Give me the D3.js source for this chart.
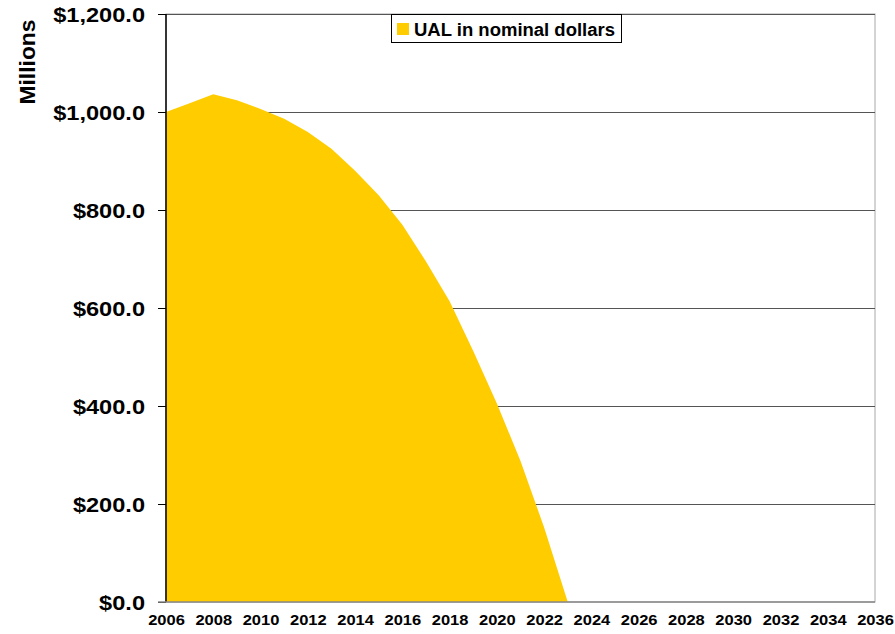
<!DOCTYPE html>
<html><head><meta charset="utf-8">
<script src="https://cdn.jsdelivr.net/npm/d3@7"></script>
<style>body{margin:0;background:#fff}svg{display:block}text{font-family:"Liberation Sans",Arial,sans-serif;font-weight:bold}</style>
</head><body>
<svg id="c" width="895" height="634"></svg>
<script>
const years = d3.range(2006, 2037);
const ualValues = [1000,1018,1036,1024,1006,986,959,925,880,830,770,695,614,512,405,288,152,0,0,0,0,0,0,0,0,0,0,0,0,0,0];
const yTicks = [0,200,400,600,800,1000,1200];
const xTicks = d3.range(2006, 2037, 2);
const seriesName = "UAL in nominal dollars";

const svg = d3.select("#c");
const L=166, R=875, T=14, B=602;
const x = d3.scaleLinear().domain([2006,2036]).range([L,R]);
const y = d3.scaleLinear().domain([0,1200]).range([B,T]);
const data = years.map((yr,i)=>({yr, v: ualValues[i]}));

// border
svg.append("rect").attr("x",L).attr("y",T).attr("width",R-L).attr("height",B-T)
  .attr("fill","none").attr("stroke","#a8a8a8").attr("stroke-width",1);

// gridlines
svg.append("g").selectAll("line").data(yTicks.filter(d=>d>0)).join("line")
  .attr("x1",L).attr("x2",R).attr("y1",d=>y(d)+0.5).attr("y2",d=>y(d)+0.5)
  .attr("stroke","#555").attr("stroke-width",1);

// area
svg.append("path").datum(data)
  .attr("d", d3.area().x(d=>x(d.yr)).y0(y(0)).y1(d=>y(d.v)))
  .attr("fill","#FFCC00");

// y axis
const ySx = 1.18;
const ya = svg.append("g").attr("transform",`translate(${L},0)`)
  .call(d3.axisLeft(y).tickValues(yTicks).tickSize(8).tickPadding(13)
    .tickFormat(d=>"$"+d3.format(",.1f")(d)));
ya.select(".domain").attr("stroke","#000").attr("stroke-width",1.5).attr("d",`M0,${T}V${B}`);
ya.selectAll(".tick line").attr("stroke","#000");
ya.selectAll(".tick text").attr("font-size","20px").attr("fill","#000").attr("dy","0.35em")
  .attr("x", -21/ySx).attr("transform",`scale(${ySx},1)`);

// x axis
const xSx = 1.1;
const xa = svg.append("g").attr("transform",`translate(0,${B})`)
  .call(d3.axisBottom(x).tickValues(xTicks).tickSize(0).tickPadding(12).tickFormat(d3.format("d")));
xa.select(".domain").attr("stroke","#888").attr("stroke-width",1.5).attr("d",`M${L-8},0H${R}`);
xa.selectAll(".tick text").attr("font-size","15px").attr("fill","#000").attr("transform",`scale(${xSx},1)`);

// y label
svg.append("text").attr("transform","translate(35,62) rotate(-90)")
  .attr("text-anchor","middle").attr("font-size","22px").attr("fill","#000")
  .attr("textLength",85).attr("lengthAdjust","spacingAndGlyphs").text("Millions");

// legend
const lg = svg.append("g");
lg.append("rect").attr("x",391.5).attr("y",14.5).attr("width",230).attr("height",28)
  .attr("fill","#fff").attr("stroke","#000").attr("stroke-width",1);
lg.append("rect").attr("x",397).attr("y",23).attr("width",12).attr("height",12).attr("fill","#FFCC00");
lg.append("text").attr("x",414).attr("y",36).attr("font-size","18px").attr("fill","#000")
  .attr("textLength",201).attr("lengthAdjust","spacingAndGlyphs").text(seriesName);
</script>
</body></html>
